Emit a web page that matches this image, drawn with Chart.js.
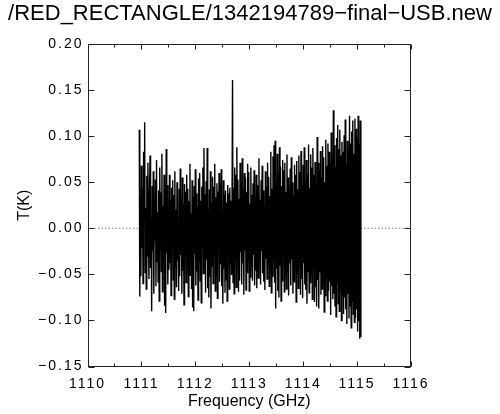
<!DOCTYPE html>
<html>
<head>
<meta charset="utf-8">
<script src="https://cdn.jsdelivr.net/npm/chart.js@4.4.1/dist/chart.umd.min.js"></script>
<style>
html, body { margin: 0; padding: 0; background: #fff; }
</style>
</head>
<body>
<canvas id="spec" width="500" height="414"></canvas>
<script>
// spectrum, one value per 0.01 GHz channel
const plotTitle = "/RED_RECTANGLE/1342194789\u2212final\u2212USB.new";
const freqStart = 1110.96;
const chanWidth = 0.01;
const tK = [
  .107,-.074,.035,-.052,.068,-.021,.044,-.060,.083,.010,
  .115,-.048,.022,-.066,.057,-.030,.071,-.008,-.055,.038,
  .079,-.043,.012,-.090,.046,-.025,.062,-.071,.029,-.014,
  .053,-.063,.074,-.036,.018,-.058,.041,-.079,.066,-.005,
  .039,-.047,.081,-.069,.024,-.033,.058,-.084,.047,-.092,
  .086,-.027,.047,-.061,.015,-.045,.058,-.038,.031,-.073,
  .044,-.019,.052,-.056,.036,-.077,.062,-.041,.020,-.064,
  .050,-.035,.009,-.068,.043,-.052,.065,-.029,.034,-.071,
  .055,-.046,.027,-.083,.048,-.017,.040,-.059,.058,-.032,
  .043,-.074,.030,-.051,.070,-.040,.016,-.066,.052,-.086,
  .035,-.090,.046,-.028,.064,-.062,.038,-.047,.024,-.078,
  .054,-.036,.060,-.057,.030,-.081,.045,-.022,.066,-.049,
  .087,-.043,.037,-.070,.051,-.034,.087,-.065,.021,-.075,
  .042,-.053,.062,-.087,.028,-.041,.056,-.060,.045,-.030,
  .070,-.068,.034,-.052,.049,-.076,.040,-.025,.060,-.058,
  .047,-.039,.064,-.063,.019,-.082,.052,-.044,.036,-.070,
  .041,-.056,.028,-.079,.047,-.031,.038,-.066,.044,-.038,
  .030,-.050,.017,.161,-.059,.044,-.071,.066,-.033,.058,
  -.064,.088,-.042,.053,-.069,.032,-.057,.071,-.026,.049,
  -.061,.076,-.038,.042,-.072,.060,-.024,.055,-.067,.039,
  -.048,.070,-.035,.061,-.068,.027,-.053,.066,-.041,.036,
  -.057,.049,-.029,.063,-.062,.034,-.046,.058,-.065,.022,
  .047,-.054,.076,-.037,.031,-.061,.052,-.025,.068,-.049,
  .041,-.058,.024,-.067,.062,-.033,.045,-.055,.071,-.040,
  .056,-.063,.035,-.048,.083,-.070,.043,-.052,.078,-.036,
  .090,-.059,.095,-.087,.052,-.044,.081,-.068,.060,-.075,
  .088,-.041,.067,-.079,.046,-.057,.074,-.032,.063,-.069,
  .071,-.052,.039,-.066,.080,-.047,.055,-.073,.043,-.038,
  .065,-.062,.077,-.034,.050,-.071,.036,-.058,.069,-.045,
  .058,-.080,.073,-.049,.042,-.065,.079,-.040,.061,-.072,
  .084,-.055,.047,-.076,.069,-.038,.088,-.061,.053,-.067,
  .074,-.082,.059,-.047,.091,-.070,.044,-.059,.080,-.051,
  .066,-.077,.087,-.043,.058,-.080,.072,-.064,.049,-.085,
  .099,-.056,.071,-.087,.063,-.048,.084,-.072,.055,-.066,
  .089,-.060,.077,-.091,.050,-.073,.096,-.054,.068,-.079,
  .092,-.068,.083,-.058,.071,-.094,.104,-.062,.079,-.077,
  .128,-.071,.090,-.085,.067,-.096,.098,-.059,.112,-.082,
  .086,-.090,.107,-.066,.079,-.100,.094,-.074,.083,-.093,
  .101,-.075,.118,-.088,.069,-.104,.095,-.071,.087,-.098,
  .122,-.084,.092,-.108,.105,-.079,.117,-.093,.081,-.102,
  .119,-.097,.108,-.088,.098,-.112,.122,-.101,.091,-.120,
  .117,-.118
];
const xTicks = [1110, 1111, 1112, 1113, 1114, 1115, 1116];
const xMinor = [1110.5, 1111.5, 1112.5, 1113.5, 1114.5, 1115.5];
const yTicks = [-0.15, -0.10, -0.05, 0.00, 0.05, 0.10, 0.15, 0.20];
const zeroLine = [1110, 1116];

const specPoints = tK.map((t, i) => ({ x: freqStart + i * chanWidth, y: t }));

function fmtY(v) {
  return (v < -1e-9 ? '\u2212' : '') + Math.abs(v).toFixed(2);
}

// box, inward ticks and the text that chart.js can't space the way the plot does
const frameTicks = {
  id: 'frameTicks',
  beforeDraw(chart) {
    chart.ctx.letterSpacing = '2px';
  },
  afterDraw(chart) {
    const ctx = chart.ctx;
    const a = chart.chartArea;
    const xs = chart.scales.x, ys = chart.scales.y;
    const L = Math.round(a.left) + 0.5, R = Math.round(a.right) - 0.5;
    const T = Math.round(a.top) + 0.5, B = Math.round(a.bottom) - 0.5;
    ctx.save();
    ctx.strokeStyle = '#222';
    ctx.lineWidth = 1;
    ctx.strokeRect(L, T, R - L, B - T);
    ctx.beginPath();
    xTicks.forEach(v => {
      const px = Math.round(xs.getPixelForValue(v)) + 0.5;
      ctx.moveTo(px, B); ctx.lineTo(px, B - 5);
      ctx.moveTo(px, T); ctx.lineTo(px, T + 5);
    });
    xMinor.forEach(v => {
      const px = Math.round(xs.getPixelForValue(v)) + 0.5;
      ctx.moveTo(px, B); ctx.lineTo(px, B - 3);
      ctx.moveTo(px, T); ctx.lineTo(px, T + 3);
    });
    yTicks.forEach(v => {
      const py = Math.round(ys.getPixelForValue(v)) + 0.5;
      ctx.moveTo(L, py); ctx.lineTo(L + 6, py);
      ctx.moveTo(R, py); ctx.lineTo(R - 6, py);
    });
    ctx.stroke();

    ctx.letterSpacing = '0px';
    ctx.fillStyle = '#000';
    ctx.textAlign = 'center';
    ctx.textBaseline = 'alphabetic';
    ctx.font = '22px "Liberation Sans"';
    ctx.fillText(plotTitle, chart.width / 2, 19.5);
    ctx.font = '16px "Liberation Sans"';
    ctx.fillText('Frequency (GHz)', (a.left + a.right) / 2, 406);
    ctx.translate(25, (a.top + a.bottom) / 2);
    ctx.rotate(-Math.PI / 2);
    ctx.textBaseline = 'middle';
    ctx.fillText('T(K)', 0, 0);
    ctx.restore();
  }
};

new Chart(document.getElementById('spec'), {
  type: 'line',
  data: {
    datasets: [
      {
        data: specPoints,
        borderColor: '#000',
        borderWidth: 1.4,
        pointRadius: 0,
        tension: 0,
        order: 1
      },
      {
        data: zeroLine.map(f => ({ x: f, y: 0 })),
        borderColor: '#888',
        borderWidth: 1,
        borderDash: [1.5, 2],
        pointRadius: 0,
        order: 2
      }
    ]
  },
  options: {
    responsive: false,
    animation: false,
    devicePixelRatio: 1,
    layout: { padding: { top: 44, right: 89, bottom: 0, left: 0 } },
    plugins: {
      legend: { display: false },
      tooltip: { enabled: false },
      title: { display: false }
    },
    scales: {
      x: {
        type: 'linear',
        min: 1110,
        max: 1116,
        afterBuildTicks: s => { s.ticks = xTicks.map(v => ({ value: v })); },
        afterFit: s => { s.height = 47.5; },
        grid: { display: false, drawTicks: false },
        border: { display: false },
        ticks: {
          color: '#000',
          font: { family: 'Liberation Sans', size: 14 },
          padding: 9,
          maxRotation: 0,
          autoSkip: false,
          callback: v => String(v)
        }
      },
      y: {
        min: -0.15,
        max: 0.20,
        afterBuildTicks: s => { s.ticks = yTicks.map(v => ({ value: v })); },
        afterFit: s => { s.width = 87.5; },
        grid: { display: false, drawTicks: false },
        border: { display: false },
        ticks: {
          color: '#000',
          font: { family: 'Liberation Sans', size: 14 },
          padding: 4,
          autoSkip: false,
          callback: v => fmtY(v)
        }
      }
    }
  },
  plugins: [frameTicks]
});
</script>
</body>
</html>
